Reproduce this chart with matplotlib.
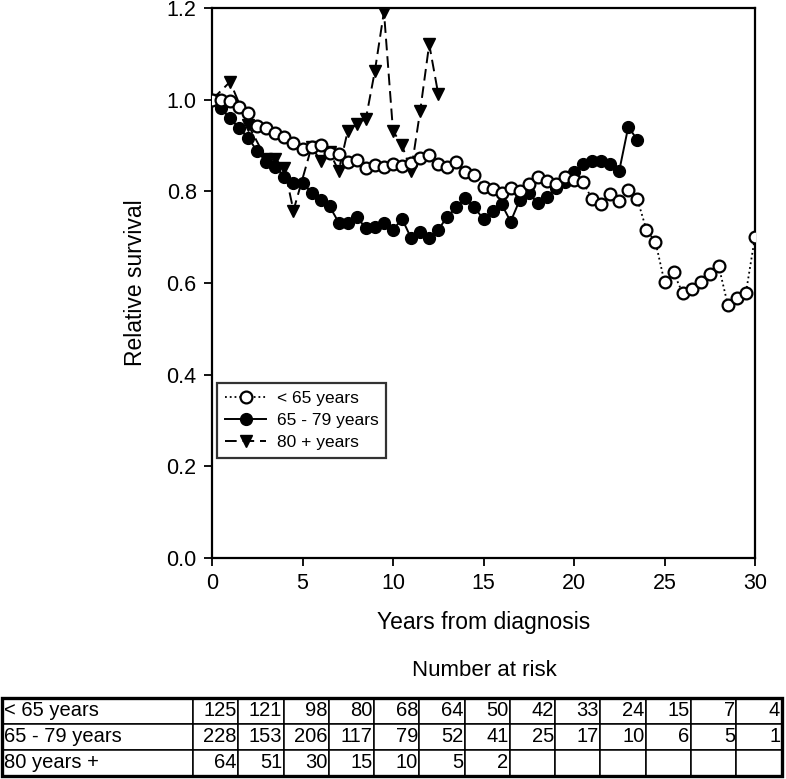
import numpy as np
import matplotlib
matplotlib.use('Agg')
import matplotlib.pyplot as plt

plt.rcParams['font.family'] = ['Liberation Sans', 'DejaVu Sans']

# < 65 years, every half year from 0 to 30
t_young = np.arange(0, 30.01, 0.5)
s_young = [1.00, 1.00, 0.996, 0.983, 0.970, 0.943, 0.938, 0.927, 0.919, 0.905,
           0.892, 0.897, 0.901, 0.884, 0.882, 0.863, 0.868, 0.850, 0.858, 0.854,
           0.860, 0.856, 0.861, 0.872, 0.879, 0.860, 0.854, 0.863, 0.842, 0.836,
           0.810, 0.804, 0.797, 0.808, 0.801, 0.816, 0.831, 0.823, 0.815, 0.832,
           0.825, 0.820, 0.783, 0.772, 0.794, 0.779, 0.803, 0.783, 0.716, 0.690,
           0.602, 0.623, 0.578, 0.588, 0.602, 0.619, 0.636, 0.552, 0.567, 0.579,
           0.701]

# 65 - 79 years, 0 to 23.5
t_mid = np.arange(0, 23.51, 0.5)
s_mid = [1.00, 0.981, 0.959, 0.938, 0.917, 0.887, 0.865, 0.854, 0.832, 0.819,
         0.819, 0.797, 0.781, 0.767, 0.732, 0.732, 0.745, 0.719, 0.723, 0.730,
         0.716, 0.740, 0.698, 0.712, 0.699, 0.716, 0.745, 0.765, 0.786, 0.765,
         0.739, 0.756, 0.772, 0.734, 0.781, 0.796, 0.774, 0.788, 0.807, 0.821,
         0.843, 0.859, 0.867, 0.867, 0.859, 0.845, 0.941, 0.912]

# 80 + years
t_old = [0, 1.0, 2.0, 3.0, 3.5, 4.0, 4.5, 5.5, 6.0, 6.5, 7.0, 7.5, 8.0, 8.5,
         9.0, 9.5, 10.0, 10.5, 11.0, 11.5, 12.0, 12.5]
s_old = [1.00, 1.039, 0.945, 0.870, 0.870, 0.850, 0.758, 0.897, 0.867, 0.885,
         0.845, 0.932, 0.947, 0.958, 1.063, 1.192, 0.932, 0.900, 0.845, 0.975,
         1.121, 1.012]

row_labels = ['< 65 years', '65 - 79 years', '80 years +']
at_risk = [
    ['125', '121', '98', '80', '68', '64', '50', '42', '33', '24', '15', '7', '4'],
    ['228', '153', '206', '117', '79', '52', '41', '25', '17', '10', '6', '5', '1'],
    ['64', '51', '30', '15', '10', '5', '2', '', '', '', '', '', ''],
]

fig = plt.figure(figsize=(7.86, 7.79), dpi=100)
ax = fig.add_axes([212 / 786, 1 - 558 / 779, 543 / 786, 550 / 779])

ax.plot(t_young, s_young, color='black', linestyle=':', linewidth=1.3,
        marker='o', markersize=8.5, markerfacecolor='white',
        markeredgecolor='black', markeredgewidth=1.6, label='< 65 years', zorder=3)
ax.plot(t_mid, s_mid, color='black', linestyle='-', linewidth=1.4,
        marker='o', markersize=8.5, markerfacecolor='black',
        markeredgecolor='black', label='65 - 79 years', zorder=2)
ax.plot(t_old, s_old, color='black', linestyle=(0, (6, 3)), linewidth=1.4,
        marker='v', markersize=9, markerfacecolor='black',
        markeredgecolor='black', label='80 + years', zorder=2)

ax.set_xlim(0, 30)
ax.set_ylim(0, 1.2)
ax.set_xticks([0, 5, 10, 15, 20, 25, 30])
ax.set_yticks([0.0, 0.2, 0.4, 0.6, 0.8, 1.0, 1.2])
ax.set_yticklabels(['0.0', '0.2', '0.4', '0.6', '0.8', '1.0', '1.2'])
ax.tick_params(direction='out', length=6, width=1.3, labelsize=15.5, pad=5)
for sp in ax.spines.values():
    sp.set_linewidth(1.6)
ax.set_xlabel('Years from diagnosis', fontsize=16.5, labelpad=12)
ax.set_ylabel('Relative survival', fontsize=16.5, labelpad=14)

leg = ax.legend(loc='upper left', bbox_to_anchor=(0.009, 0.318), fontsize=12.5,
                frameon=True, fancybox=False, edgecolor='black',
                handlelength=2.4, handletextpad=0.6, borderpad=0.45,
                labelspacing=0.4, borderaxespad=0)
leg.get_frame().set_linewidth(1.6)

fig.text(484 / 786, 1 - 671 / 779, 'Number at risk', ha='center', va='center',
         fontsize=16)

tax = fig.add_axes([0.002, 1 - 776 / 779, 780 / 786, 78 / 779])
tax.axis('off')
cells = [[lab] + row for lab, row in zip(row_labels, at_risk)]
ncol = 13
lab_w = 192 / 782
num_w = (1 - lab_w) / ncol
tbl = tax.table(cellText=cells, bbox=[0, 0, 1, 1],
                colWidths=[lab_w] + [num_w] * ncol)
tbl.auto_set_font_size(False)
for (r, c), cell in tbl.get_celld().items():
    cell.set_fontsize(14.5)
    cell.set_linewidth(1.1)
    cell.set_edgecolor('black')
    if c == 0:
        cell.get_text().set_ha('left')
        cell.PAD = 0.015
    else:
        cell.get_text().set_ha('right')
        cell.PAD = 0.03
rect = plt.Rectangle((0, 0), 1, 1, transform=tax.transAxes, fill=False,
                     edgecolor='black', linewidth=2.4, clip_on=False)
tax.add_patch(rect)

fig.savefig('out.png', dpi=100)
